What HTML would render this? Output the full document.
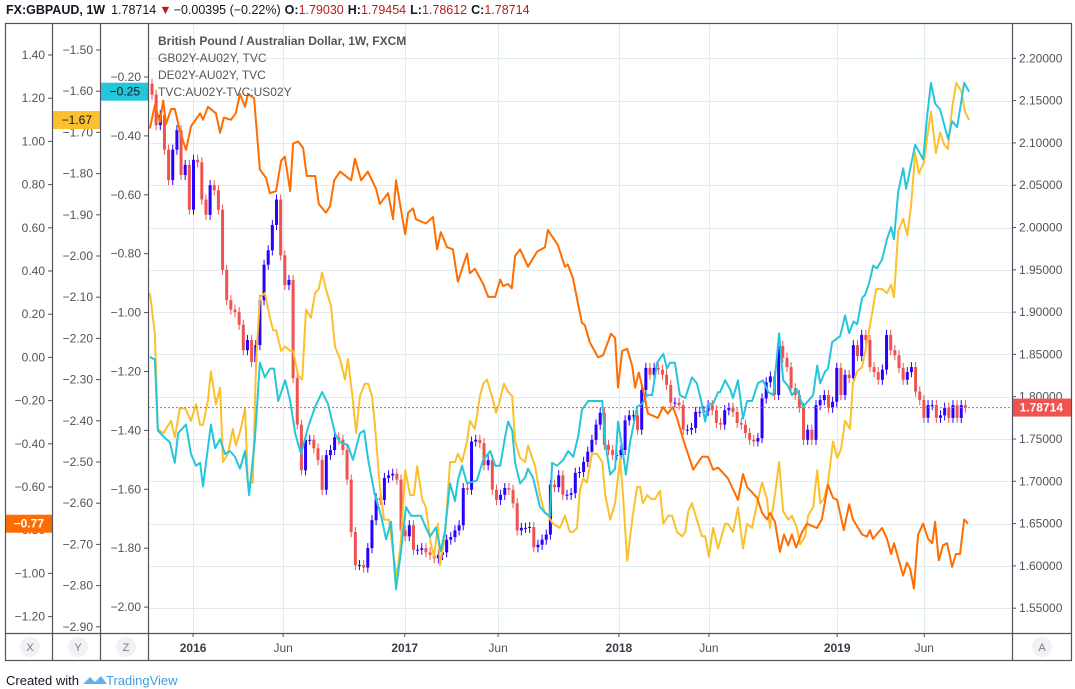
<!DOCTYPE html>
<html><head><meta charset="utf-8"><style>
html,body{margin:0;padding:0;background:#fff;width:1075px;height:689px;overflow:hidden;font-family:"Liberation Sans",sans-serif}
svg text{font-family:"Liberation Sans",sans-serif}
</style></head><body>
<svg id="chart" width="1075" height="689" viewBox="0 0 1075 689">
<g>
<text x="6" y="14" font-size="12.5" fill="#131722"><tspan font-weight="bold">FX:GBPAUD, 1W</tspan><tspan dx="6">1.78714</tspan><tspan fill="#b71c1c" dx="3">▼</tspan><tspan dx="2">−0.00395 (−0.22%)</tspan><tspan dx="4" font-weight="bold">O:</tspan><tspan fill="#b71c1c">1.79030</tspan><tspan dx="4" font-weight="bold">H:</tspan><tspan fill="#b71c1c">1.79454</tspan><tspan dx="4" font-weight="bold">L:</tspan><tspan fill="#b71c1c">1.78612</tspan><tspan dx="4" font-weight="bold">C:</tspan><tspan fill="#b71c1c">1.78714</tspan></text>
</g>
<g id="grid"></g>
<g id="series"></g>
<g id="axes"></g>
<g font-size="12" fill="#555">
<text x="158" y="45" font-weight="bold">British Pound / Australian Dollar, 1W, FXCM</text>
<text x="158" y="62">GB02Y-AU02Y, TVC</text>
<text x="158" y="79">DE02Y-AU02Y, TVC</text>
<text x="158" y="96">TVC:AU02Y-TVC:US02Y</text>
</g>
<g id="frame" stroke="#50535e" stroke-width="1.2" fill="none">
<rect x="5.5" y="23.5" width="1066" height="637"/>
<line x1="52.5" y1="23" x2="52.5" y2="661"/>
<line x1="100.5" y1="23" x2="100.5" y2="661"/>
<line x1="148.5" y1="23" x2="148.5" y2="661"/>
<line x1="1012.5" y1="23" x2="1012.5" y2="661"/>
<line x1="5" y1="633.5" x2="1072" y2="633.5"/>
</g>
<g font-size="11" fill="#787b86" text-anchor="middle">
<circle cx="30" cy="647" r="10" fill="#f0f1f5"/><text x="30" y="651">X</text>
<circle cx="78" cy="647" r="10" fill="#f0f1f5"/><text x="78" y="651">Y</text>
<circle cx="126" cy="647" r="10" fill="#f0f1f5"/><text x="126" y="651">Z</text>
<circle cx="1042" cy="647" r="10" fill="#f0f1f5"/><text x="1042" y="651">A</text>
</g>
<g>
<text x="6" y="685" font-size="13" fill="#131722">Created with</text>
<path d="M83 684 l7-7 5 5 6-6 6 8z" fill="#5fb4e5"/>
<text x="106" y="685" font-size="13" fill="#3aa0dc">TradingView</text>
</g>
</svg>
<script>
// ---------- data ----------
const timeLabels = ["2016","Jun","2017","Jun","2018","Jun","2019","Jun"];
const timeLabelWeeks = [9.9, 31.6, 60.9, 83.4, 112.5, 134.2, 165.1, 186.1];
const priceTicks = [2.20,2.15,2.10,2.05,2.00,1.95,1.90,1.85,1.80,1.75,1.70,1.65,1.60,1.55];
const xTicks = [1.40,1.20,1.00,0.80,0.60,0.40,0.20,0.00,-0.20,-0.40,-0.60,-0.80,-1.00,-1.20];
const yTicks = [-1.50,-1.60,-1.70,-1.80,-1.90,-2.00,-2.10,-2.20,-2.30,-2.40,-2.50,-2.60,-2.70,-2.80,-2.90];
const zTicks = [-0.20,-0.40,-0.60,-0.80,-1.00,-1.20,-1.40,-1.60,-1.80,-2.00];
const firstOpen = 2.17;
const closes = [2.157,2.121,2.133,2.092,2.056,2.092,2.115,2.062,2.074,2.021,2.080,2.077,2.033,2.015,2.050,2.044,2.021,1.950,1.914,1.903,
1.900,1.885,1.855,1.867,1.841,1.861,1.914,1.956,1.973,2.003,2.033,1.967,1.932,1.938,1.822,1.767,1.713,1.749,1.749,1.739,
1.725,1.690,1.731,1.737,1.752,1.749,1.737,1.702,1.640,1.601,1.601,1.598,1.621,1.654,1.680,1.678,1.704,1.707,1.709,1.702,
1.642,1.635,1.648,1.619,1.619,1.621,1.616,1.613,1.609,1.613,1.616,1.631,1.634,1.642,1.648,1.692,1.690,1.747,1.749,1.745,
1.719,1.725,1.690,1.678,1.684,1.692,1.690,1.674,1.642,1.645,1.645,1.646,1.622,1.625,1.631,1.637,1.696,1.693,1.707,1.684,
1.684,1.686,1.710,1.711,1.723,1.735,1.749,1.767,1.781,1.743,1.737,1.731,1.731,1.737,1.772,1.778,1.778,1.761,1.808,1.834,
1.826,1.834,1.832,1.826,1.814,1.793,1.793,1.790,1.761,1.761,1.763,1.782,1.782,1.783,1.790,1.784,1.769,1.767,1.784,1.787,
1.782,1.769,1.767,1.757,1.749,1.747,1.751,1.798,1.817,1.824,1.802,1.860,1.846,1.835,1.810,1.802,1.787,1.749,1.761,1.749,
1.790,1.796,1.802,1.787,1.794,1.834,1.802,1.826,1.822,1.861,1.848,1.873,1.867,1.835,1.829,1.820,1.832,1.873,1.855,1.849,
1.834,1.820,1.829,1.835,1.806,1.796,1.775,1.790,1.790,1.775,1.778,1.787,1.775,1.790,1.775,1.790,1.78714];
// AU02Y-US02Y (X axis): [week, value]
const auUs = [[-0.5,1.06],[0.7,1.17],[1.9,1.09],[2.7,1.19],[3.4,1.08],[4.6,1.15],[5.5,1.15],[6.7,1.05],[8.2,0.96],[9.4,1.07],[11.6,1.13],[12.3,1.10],[13.5,1.16],[15.4,1.13],[16.4,1.04],[17.3,1.11],[19.0,1.10],[20.2,1.13],[21.2,1.22],[22.4,1.16],[23.1,1.22],[24.6,1.20],[26.0,0.87],[27.5,0.83],[28.4,0.76],[29.9,0.77],[31.1,0.91],[32.0,0.93],[33.3,0.77],[34.0,0.99],[35.2,1.00],[36.4,0.97],[37.3,0.84],[39.3,0.84],[40.2,0.71],[41.9,0.67],[42.9,0.70],[43.9,0.82],[45.3,0.86],[48.0,0.82],[48.9,0.92],[50.4,0.82],[52.0,0.86],[54.0,0.78],[54.9,0.71],[56.9,0.76],[58.1,0.64],[58.8,0.82],[61.0,0.57],[61.7,0.67],[62.9,0.69],[63.6,0.64],[66.0,0.62],[67.7,0.65],[68.7,0.50],[69.6,0.58],[71.1,0.51],[72.5,0.50],[73.7,0.35],[75.9,0.48],[76.6,0.39],[77.8,0.41],[79.8,0.34],[81.0,0.28],[82.7,0.28],[83.9,0.36],[84.6,0.33],[85.8,0.34],[86.7,0.32],[87.5,0.47],[88.7,0.50],[90.6,0.42],[92.8,0.49],[94.7,0.51],[95.4,0.59],[96.4,0.56],[97.8,0.52],[99.5,0.42],[100.2,0.43],[101.4,0.37],[103.6,0.16],[104.3,0.15],[105.5,0.07],[107.5,0.00],[108.7,0.01],[110.6,0.11],[111.6,0.09],[112.3,-0.14],[113.3,0.03],[114.5,0.04],[115.7,-0.04],[116.4,-0.14],[117.3,-0.07],[118.8,-0.19],[119.5,-0.26],[121.9,-0.28],[123.1,-0.23],[124.3,-0.26],[125.5,-0.23],[126.5,-0.28],[128.0,-0.38],[130.4,-0.52],[132.5,-0.46],[134.0,-0.46],[135.2,-0.52],[136.4,-0.51],[138.8,-0.56],[141.2,-0.66],[142.4,-0.54],[143.4,-0.60],[145.8,-0.65],[147.0,-0.72],[148.2,-0.75],[148.9,-0.72],[150.1,-0.76],[151.3,-0.90],[152.3,-0.82],[153.3,-0.87],[154.2,-0.82],[155.2,-0.88],[156.6,-0.81],[157.8,-0.77],[160.2,-0.79],[161.4,-0.75],[162.9,-0.59],[164.1,-0.65],[165.1,-0.66],[166.7,-0.80],[168.0,-0.68],[168.9,-0.75],[171.1,-0.82],[172.3,-0.83],[173.0,-0.80],[173.7,-0.84],[175.9,-0.79],[177.1,-0.84],[178.1,-0.91],[178.8,-0.86],[181.0,-1.01],[181.9,-0.95],[182.7,-0.98],[183.6,-1.07],[184.6,-0.82],[185.8,-0.77],[187.0,-0.84],[188.0,-0.86],[188.7,-0.76],[189.6,-0.94],[190.6,-0.87],[191.6,-0.86],[192.8,-0.97],[193.7,-0.91],[194.7,-0.91],[195.7,-0.75],[196.6,-0.77]];
// DE02Y-AU02Y (Y axis)
const deAu = [[-0.5,-2.09],[0.7,-2.19],[1.4,-2.42],[2.7,-2.43],[3.4,-2.42],[4.6,-2.40],[5.5,-2.44],[6.7,-2.37],[8.0,-2.37],[9.4,-2.40],[10.6,-2.36],[11.6,-2.41],[12.3,-2.41],[13.5,-2.35],[14.2,-2.28],[15.4,-2.36],[16.4,-2.32],[17.1,-2.50],[18.3,-2.48],[19.5,-2.42],[20.2,-2.46],[21.4,-2.42],[22.4,-2.37],[23.1,-2.55],[24.3,-2.55],[25.1,-2.25],[26.0,-2.10],[27.2,-2.09],[28.4,-2.15],[29.2,-2.18],[29.9,-2.18],[31.1,-2.23],[32.1,-2.22],[33.3,-2.23],[34.0,-2.23],[35.2,-2.29],[36.2,-2.30],[37.1,-2.13],[38.3,-2.15],[39.3,-2.09],[40.2,-2.08],[41.0,-2.04],[41.9,-2.08],[43.1,-2.12],[44.1,-2.22],[45.3,-2.25],[46.5,-2.30],[47.2,-2.25],[48.4,-2.35],[49.2,-2.43],[50.1,-2.34],[51.3,-2.31],[52.1,-2.31],[53.0,-2.34],[53.7,-2.41],[54.9,-2.56],[55.9,-2.64],[57.1,-2.64],[58.1,-2.72],[59.0,-2.78],[60.0,-2.69],[61.0,-2.52],[62.2,-2.58],[63.1,-2.58],[63.9,-2.51],[65.1,-2.59],[66.0,-2.61],[67.2,-2.70],[68.0,-2.73],[68.9,-2.65],[69.4,-2.75],[70.6,-2.68],[71.8,-2.50],[73.0,-2.50],[73.7,-2.48],[74.7,-2.50],[75.9,-2.45],[76.6,-2.40],[77.8,-2.42],[79.0,-2.34],[79.8,-2.31],[80.7,-2.30],[81.9,-2.34],[82.9,-2.38],[83.6,-2.36],[84.8,-2.31],[85.8,-2.33],[86.8,-2.34],[87.5,-2.45],[88.7,-2.49],[89.9,-2.50],[90.6,-2.46],[92.3,-2.51],[93.5,-2.58],[94.5,-2.62],[95.4,-2.63],[96.6,-2.65],[98.3,-2.66],[99.5,-2.63],[100.7,-2.67],[101.5,-2.67],[102.4,-2.66],[103.1,-2.57],[103.9,-2.54],[104.8,-2.55],[106.0,-2.48],[107.2,-2.48],[108.5,-2.50],[109.2,-2.58],[110.4,-2.64],[111.6,-2.60],[112.8,-2.49],[113.5,-2.58],[114.5,-2.74],[115.7,-2.64],[116.9,-2.56],[117.6,-2.56],[118.3,-2.60],[119.3,-2.58],[120.3,-2.59],[121.2,-2.59],[122.4,-2.57],[123.2,-2.65],[124.4,-2.63],[125.3,-2.63],[126.5,-2.67],[127.7,-2.68],[128.5,-2.67],[129.2,-2.62],[130.1,-2.60],[131.3,-2.64],[132.5,-2.68],[133.3,-2.68],[134.2,-2.73],[135.2,-2.66],[136.4,-2.71],[138.1,-2.65],[138.8,-2.65],[140.0,-2.67],[141.2,-2.61],[142.4,-2.71],[143.4,-2.65],[144.6,-2.66],[145.8,-2.60],[147.0,-2.55],[148.2,-2.59],[148.9,-2.66],[150.1,-2.58],[151.1,-2.50],[152.1,-2.62],[153.3,-2.64],[154.2,-2.63],[155.4,-2.66],[156.2,-2.70],[157.4,-2.68],[158.1,-2.63],[159.3,-2.61],[160.3,-2.52],[161.0,-2.60],[161.9,-2.59],[162.9,-2.55],[164.1,-2.45],[165.1,-2.49],[166.0,-2.47],[167.0,-2.40],[168.2,-2.42],[168.9,-2.31],[169.9,-2.28],[171.1,-2.27],[172.3,-2.21],[173.5,-2.14],[174.5,-2.08],[175.9,-2.08],[177.1,-2.09],[178.1,-2.07],[178.8,-2.10],[179.8,-1.94],[181.0,-1.91],[182.0,-1.95],[182.9,-1.88],[183.9,-1.75],[184.8,-1.80],[186.1,-1.77],[186.8,-1.71],[187.7,-1.65],[188.9,-1.75],[189.9,-1.70],[190.9,-1.73],[191.8,-1.74],[192.8,-1.64],[193.8,-1.58],[195.0,-1.60],[195.9,-1.65],[196.9,-1.67]];
// GB02Y-AU02Y (Z axis)
const gbAu = [[-0.5,-1.15],[0.7,-1.16],[1.4,-1.40],[2.7,-1.42],[4.3,-1.44],[5.5,-1.51],[6.3,-1.41],[8.2,-1.38],[9.4,-1.48],[10.6,-1.52],[11.6,-1.51],[12.3,-1.59],[14.2,-1.38],[15.2,-1.46],[16.4,-1.43],[17.6,-1.48],[18.8,-1.47],[20.0,-1.49],[21.2,-1.53],[22.4,-1.47],[23.4,-1.62],[24.8,-1.43],[26.0,-1.17],[27.2,-1.22],[28.4,-1.19],[29.4,-1.19],[30.4,-1.30],[32.1,-1.23],[33.3,-1.30],[34.5,-1.41],[35.9,-1.48],[37.6,-1.39],[39.3,-1.32],[41.0,-1.27],[42.4,-1.31],[44.1,-1.41],[45.3,-1.44],[47.2,-1.45],[48.4,-1.50],[50.1,-1.41],[51.1,-1.40],[52.1,-1.50],[53.7,-1.62],[55.2,-1.69],[56.4,-1.77],[57.6,-1.71],[58.8,-1.94],[60.0,-1.81],[61.2,-1.66],[62.4,-1.69],[64.8,-1.69],[66.0,-1.73],[67.0,-1.76],[68.4,-1.73],[69.6,-1.81],[70.6,-1.74],[71.8,-1.58],[73.0,-1.64],[73.7,-1.57],[74.7,-1.52],[75.9,-1.58],[78.3,-1.57],[79.8,-1.50],[81.5,-1.47],[82.7,-1.52],[83.9,-1.52],[85.1,-1.42],[85.8,-1.37],[86.8,-1.40],[87.5,-1.51],[88.7,-1.58],[89.9,-1.56],[90.6,-1.53],[91.8,-1.56],[93.5,-1.66],[94.7,-1.68],[95.9,-1.69],[96.4,-1.51],[97.6,-1.52],[99.1,-1.50],[100.3,-1.47],[101.5,-1.49],[102.7,-1.42],[103.6,-1.33],[105.1,-1.30],[106.3,-1.30],[108.5,-1.30],[109.2,-1.44],[110.4,-1.55],[111.6,-1.53],[112.3,-1.37],[113.3,-1.46],[114.2,-1.55],[115.2,-1.44],[116.9,-1.32],[118.1,-1.31],[119.3,-1.28],[120.5,-1.28],[121.7,-1.17],[123.2,-1.14],[124.1,-1.19],[124.8,-1.17],[126.0,-1.17],[127.2,-1.28],[128.5,-1.29],[130.1,-1.22],[131.3,-1.24],[132.5,-1.31],[133.3,-1.37],[134.0,-1.31],[135.2,-1.31],[136.4,-1.27],[136.9,-1.27],[138.1,-1.23],[139.3,-1.26],[140.0,-1.29],[141.2,-1.23],[142.4,-1.36],[143.4,-1.30],[144.6,-1.30],[146.0,-1.24],[147.2,-1.23],[148.5,-1.27],[149.7,-1.28],[151.1,-1.07],[152.1,-1.23],[153.3,-1.25],[154.2,-1.28],[155.4,-1.26],[156.9,-1.32],[158.1,-1.30],[159.3,-1.28],[160.3,-1.18],[161.0,-1.24],[162.2,-1.20],[162.9,-1.19],[163.9,-1.10],[165.8,-1.08],[167.0,-1.01],[168.0,-1.07],[169.0,-1.03],[169.9,-1.04],[171.1,-0.95],[171.8,-0.94],[172.8,-0.90],[173.8,-0.84],[174.7,-0.85],[175.9,-0.82],[177.1,-0.75],[178.1,-0.71],[178.8,-0.75],[179.8,-0.59],[181.0,-0.51],[181.7,-0.58],[183.9,-0.43],[185.8,-0.48],[186.8,-0.33],[187.7,-0.22],[188.7,-0.29],[189.9,-0.31],[191.8,-0.41],[192.8,-0.35],[194.0,-0.37],[194.7,-0.31],[195.7,-0.22],[196.9,-0.25]];

// ---------- scales ----------
const NS = "http://www.w3.org/2000/svg";
const PL = 148, PR = 1012, PT = 23, PB = 633;
const xW = w => 152 + w * 4.15;
const yPrice = p => 396.7 - (p - 1.80) * 846;
const yX = v => 55 + (1.40 - v) * 216;
const yY = v => 50 + (-1.50 - v) * 412;
const yZ = v => 77 + (-0.20 - v) * 294.5;
function mk(tag, attrs, parent) {
  const el = document.createElementNS(NS, tag);
  for (const k in attrs) el.setAttribute(k, attrs[k]);
  parent.appendChild(el);
  return el;
}
const grid = document.getElementById('grid');
const series = document.getElementById('series');
const axes = document.getElementById('axes');

priceTicks.forEach((p, i) => {
  const y = Math.round(yPrice(p)) + 0.5;
  const l = mk('line', {x1: PL, x2: PR, y1: y, y2: y, stroke: '#e1ecf2', 'stroke-width': 1}, grid);
  
  
});
timeLabelWeeks.forEach(w => {
  const x = Math.round(xW(w)) + 0.5;
  const l = mk('line', {x1: x, x2: x, y1: PT, y2: PB, stroke: '#e1ecf2', 'stroke-width': 1}, grid);
  
  
});

function drawLine(data, yfn, color, name) {
  const d = data.map((p, i) => (i ? 'L' : 'M') + xW(p[0]).toFixed(1) + ' ' + yfn(p[1]).toFixed(1)).join(' ');
  const path = mk('path', {d: d, fill: 'none', stroke: color, 'stroke-width': 2, 'stroke-linejoin': 'round'}, series);
  
  
}

const cg = mk('g', {}, series);


let prev = firstOpen;
closes.forEach((c, i) => {
  const o = prev; prev = c;
  const x = xW(i);
  const up = c >= o;
  const col = up ? '#2a00ff' : '#ef5350';
  const hi = Math.max(o, c) + 0.006, lo = Math.min(o, c) - 0.006;
  const wick = mk('line', {x1: x, x2: x, y1: yPrice(hi), y2: yPrice(lo), stroke: col, 'stroke-width': 1}, cg);
  
  
  const top = yPrice(Math.max(o, c)), bot = yPrice(Math.min(o, c));
  const body = mk('rect', {x: x - 1.5, y: top, width: 3, height: Math.max(1, bot - top), fill: col}, cg);
  
  
});
drawLine(deAu, yY, '#fbc02d', 'de02y-au02y-line');
drawLine(gbAu, yZ, '#26c6da', 'gb02y-au02y-line');
drawLine(auUs, yX, '#ff6d00', 'au02y-us02y-line');

const lastY = yPrice(closes[closes.length - 1]);
const pl = mk('line', {x1: PL, x2: PR, y1: lastY, y2: lastY, stroke: '#ef5350', 'stroke-width': 1, 'stroke-dasharray': '2,2'}, series);



function txt(x, y, s, attrs, name) {
  const t = mk('text', Object.assign({x: x, y: y, 'font-size': 12, fill: '#50535e'}, attrs), axes);
  t.textContent = s;
  
  
  return t;
}
const fmt = v => (v < 0 ? '−' : '') + Math.abs(v).toFixed(2);
function leftAxis(ticks, yfn, right, name) {
  ticks.forEach(v => {
    const y = yfn(v);
    const tk = mk('line', {x1: right - 4, x2: right, y1: y, y2: y, stroke: '#50535e'}, axes);
    
    
    txt(right - 7, y + 4, fmt(v), {'text-anchor': 'end'}, name + '-label');
  });
}
leftAxis(xTicks, yX, 52, 'x-axis');
leftAxis(yTicks, yY, 100, 'y-axis');
leftAxis(zTicks, yZ, 148, 'z-axis');
priceTicks.forEach(p => {
  const y = yPrice(p);
  const tk = mk('line', {x1: PR, x2: PR + 4, y1: y, y2: y, stroke: '#50535e'}, axes);
  
  
  txt(PR + 7, y + 4, p.toFixed(5), {}, 'price-axis-label');
});
timeLabels.forEach((s, i) => {
  const x = xW(timeLabelWeeks[i]);
  const tk = mk('line', {x1: x, x2: x, y1: PB, y2: PB + 4, stroke: '#50535e'}, axes);
  
  
  txt(x, 652, s, {'text-anchor': 'middle', 'font-weight': s === 'Jun' ? 'normal' : 'bold', fill: s === 'Jun' ? '#50535e' : '#3a3d47'}, 'time-axis-label');
});

function badge(x, w, y, bg, fg, s, bold, name) {
  const r = mk('rect', {x: x, y: y - 9, width: w, height: 18, fill: bg}, axes);
  
  
  txt(x + w - 8, y + 4, s, {'text-anchor': 'end', fill: fg, 'font-weight': bold ? 'bold' : 'normal'}, name + '-text');
}
const lastX = auUs[auUs.length - 1][1], lastYv = deAu[deAu.length - 1][1], lastZ = gbAu[gbAu.length - 1][1];
badge(5, 47, yX(lastX), '#ff6d00', '#fff', fmt(lastX), true, 'x-last-value-badge');
badge(53, 47, yY(lastYv), '#fbc02d', '#131722', fmt(lastYv), false, 'y-last-value-badge');
badge(101, 47, yZ(lastZ), '#26c6da', '#131722', fmt(lastZ), false, 'z-last-value-badge');
badge(1013, 58, lastY, '#ef5350', '#fff', closes[closes.length - 1].toFixed(5), true, 'price-last-value-badge');
</script>
</body></html>
